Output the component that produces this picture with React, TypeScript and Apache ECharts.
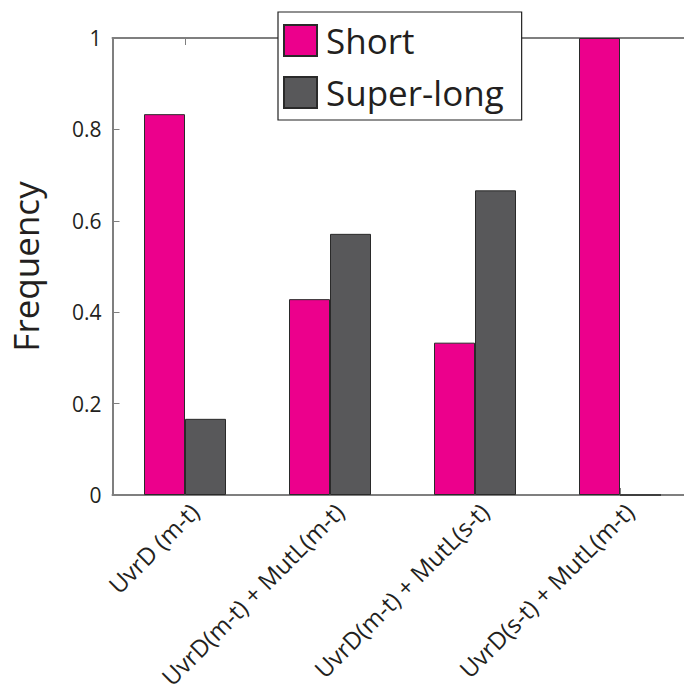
import React, { useEffect, useRef } from "react";
import * as echarts from "echarts";

const categories = [
  "UvrD (m-t)",
  "UvrD(m-t) + MutL(m-t)",
  "UvrD(m-t) + MutL(s-t)",
  "UvrD(s-t) + MutL(m-t)",
];
const shortFreq = [5 / 6, 3 / 7, 1 / 3, 1];
const superLongFreq = [1 / 6, 4 / 7, 2 / 3, 0];
const yTicks = [0, 0.2, 0.4, 0.6, 0.8, 1];

const FONT = "'Open Sans', 'Noto Sans', sans-serif";
const AXIS_COLOR = "#7f7f7f";
const TEXT_COLOR = "#231f20";

export default function App() {
  const ref = useRef<HTMLDivElement>(null);

  useEffect(() => {
    if (!ref.current) return;
    const chart = echarts.init(ref.current, undefined, { renderer: "svg" });
    chart.setOption({
      animation: false,
      backgroundColor: "#ffffff",
      textStyle: { fontFamily: FONT },
      // plot area runs past the right edge of the canvas
      grid: {
        left: 112.5,
        top: 38,
        height: 457,
        width: 580,
        outerBoundsMode: "none",
        containLabel: false,
      },
      legend: {
        orient: "vertical",
        left: 278,
        top: 12,
        padding: [11, 18, 10, 5],
        itemGap: 17,
        itemWidth: 33,
        itemHeight: 31,
        backgroundColor: "#ffffff",
        borderColor: "#222",
        borderWidth: 1.2,
        borderRadius: 0,
        icon: "rect",
        textStyle: {
          fontSize: 35,
          color: TEXT_COLOR,
          fontFamily: FONT,
          lineHeight: 31,
          padding: [0, 0, 0, 4],
        },
        data: ["Short", "Super-long"],
      },
      xAxis: [
        {
          type: "category",
          data: categories,
          position: "bottom",
          axisLine: { show: true, lineStyle: { color: AXIS_COLOR, width: 2 } },
          axisTick: {
            show: true,
            inside: true,
            alignWithLabel: true,
            length: 7,
            lineStyle: { color: AXIS_COLOR },
          },
          axisLabel: {
            rotate: 45,
            fontSize: 24,
            lineHeight: 26,
            color: TEXT_COLOR,
            fontFamily: FONT,
            margin: 3,
            verticalAlign: "top",
            interval: 0,
          },
        },
        {
          type: "category",
          data: categories,
          position: "top",
          axisLine: { show: true, lineStyle: { color: AXIS_COLOR, width: 2 } },
          axisTick: {
            show: true,
            inside: true,
            alignWithLabel: true,
            length: 7,
            lineStyle: { color: AXIS_COLOR },
          },
          axisLabel: { show: false },
        },
      ],
      yAxis: {
        type: "value",
        min: 0,
        max: 1,
        interval: 0.2,
        name: "Frequency",
        nameLocation: "middle",
        nameGap: 70,
        nameTextStyle: { fontSize: 35, color: TEXT_COLOR, fontFamily: FONT },
        axisLine: { show: true, lineStyle: { color: AXIS_COLOR, width: 2 } },
        axisTick: { show: true, inside: true, length: 7, lineStyle: { color: AXIS_COLOR } },
        splitLine: { show: false },
        axisLabel: {
          fontSize: 21,
          color: TEXT_COLOR,
          fontFamily: FONT,
          margin: 11,
          formatter: (v: number) => {
            const r = Math.round(v * 10) / 10;
            return yTicks.includes(r) ? String(r) : "";
          },
        },
      },
      series: [
        {
          name: "Short",
          type: "bar",
          data: shortFreq,
          barWidth: 41,
          barGap: "0%",
          itemStyle: { color: "#ec008c", borderColor: "#2a2a2a", borderWidth: 1 },
        },
        {
          name: "Super-long",
          type: "bar",
          data: superLongFreq,
          barWidth: 41,
          barGap: "0%",
          itemStyle: { color: "#58585a", borderColor: "#2a2a2a", borderWidth: 1 },
        },
      ],
    });
    return () => chart.dispose();
  }, []);

  return (
    <div
      ref={ref}
      style={{ position: "fixed", left: 0, top: 0, width: 684, height: 696 }}
    />
  );
}
